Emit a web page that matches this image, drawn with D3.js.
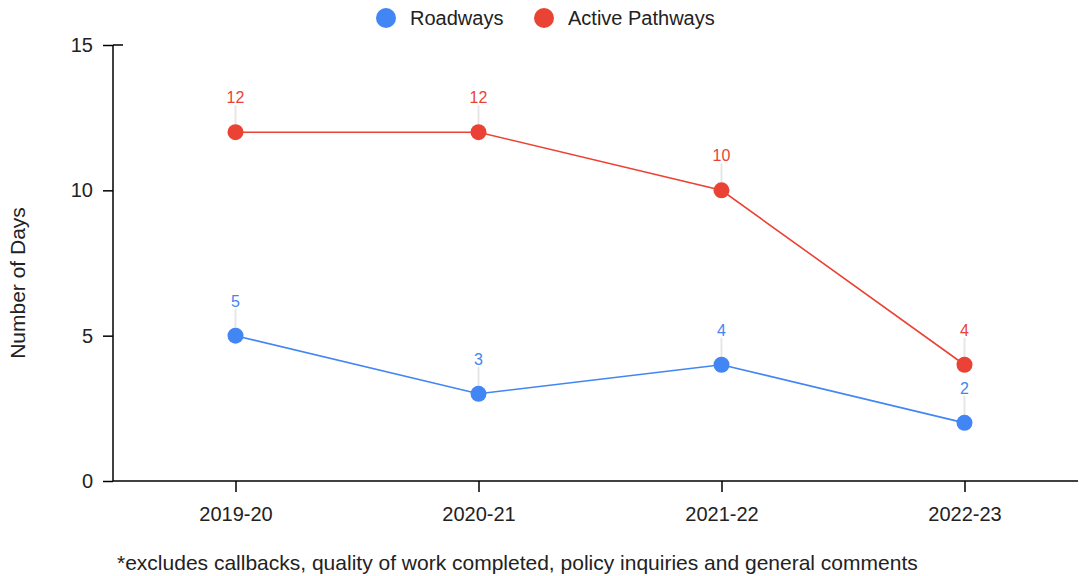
<!DOCTYPE html>
<html><head><meta charset="utf-8">
<script src="https://cdn.jsdelivr.net/npm/d3@7"></script>
<style>body{margin:0;background:#fff}svg{display:block;font-family:"Liberation Sans",Arial,sans-serif}</style>
</head><body><svg id="c" width="1081" height="576"></svg>
<script>
const categories = ["2019-20","2020-21","2021-22","2022-23"];
const roadways = [5,3,4,2];
const activePathways = [12,12,10,4];
const seriesNames = ["Roadways","Active Pathways"];
const colors = ["#4285F4","#EA4335"];
const yTicks = [0,5,10,15];
const footnote = "*excludes callbacks, quality of work completed, policy inquiries and general comments";

const svg = d3.select("#c");
const x = d3.scalePoint().domain(categories).range([114,1086]).padding(0.5);
const y = d3.scaleLinear().domain([0,15]).range([481,45]);

// y axis
const ya = svg.append("g").attr("transform","translate(113,0)")
  .call(d3.axisLeft(y).tickValues(yTicks).tickSize(10).tickPadding(10));
ya.select(".domain").remove();
ya.append("line").attr("x1",0).attr("x2",0).attr("y1",y(15)).attr("y2",y(0)).attr("stroke","#000").attr("stroke-width",1.5);
ya.selectAll(".tick line").attr("stroke","#000").attr("stroke-width",1.5);
ya.append("line").attr("x1",0).attr("x2",10).attr("y1",y(15)).attr("y2",y(15)).attr("stroke","#000").attr("stroke-width",1.5);
ya.selectAll("text").attr("font-size",20).attr("fill","#222").attr("font-family","Liberation Sans, Arial, sans-serif");

// x axis
const xa = svg.append("g").attr("transform","translate(0,481)")
  .call(d3.axisBottom(x).tickSize(11).tickPadding(15));
xa.select(".domain").remove();
xa.append("line").attr("x1",113).attr("x2",1078).attr("y1",0).attr("y2",0).attr("stroke","#000").attr("stroke-width",1.5);
xa.selectAll(".tick line").attr("stroke","#000").attr("stroke-width",1.5);
xa.selectAll("text").attr("font-size",20).attr("fill","#222").attr("font-family","Liberation Sans, Arial, sans-serif");

// y title
svg.append("text").attr("transform","translate(25,283) rotate(-90)").attr("text-anchor","middle")
  .attr("font-size",21).attr("fill","#222").text("Number of Days");

const data = [roadways, activePathways];
const line = d3.line().x((d,i)=>x(categories[i])).y(d=>y(d));
data.forEach((vals,si)=>{
  const g = svg.append("g");
  g.selectAll("line.ld").data(vals).join("line")
    .attr("x1",(d,i)=>x(categories[i])).attr("x2",(d,i)=>x(categories[i]))
    .attr("y1",d=>y(d)).attr("y2",d=>y(d)-27)
    .attr("stroke","#e6e6e6").attr("stroke-width",2);
  g.append("path").datum(vals).attr("d",line).attr("fill","none").attr("stroke",colors[si]).attr("stroke-width",1.6);
  g.selectAll("circle").data(vals).join("circle")
    .attr("cx",(d,i)=>x(categories[i])).attr("cy",d=>y(d)).attr("r",8).attr("fill",colors[si]);
  g.selectAll("text").data(vals).join("text")
    .attr("x",(d,i)=>x(categories[i])).attr("y",d=>y(d)-29)
    .attr("text-anchor","middle").attr("font-size",16).attr("fill",colors[si]).text(d=>d);
});

// legend
const lg = svg.append("g");
const lx = [386,544];
seriesNames.forEach((n,i)=>{
  lg.append("circle").attr("cx",lx[i]).attr("cy",18).attr("r",10).attr("fill",colors[i]);
  lg.append("text").attr("x",lx[i]+24).attr("y",25).attr("font-size",20).attr("fill","#222").text(n);
});

svg.append("text").attr("x",117).attr("y",570).attr("font-size",21).attr("fill","#222").text(footnote);
</script></body></html>
